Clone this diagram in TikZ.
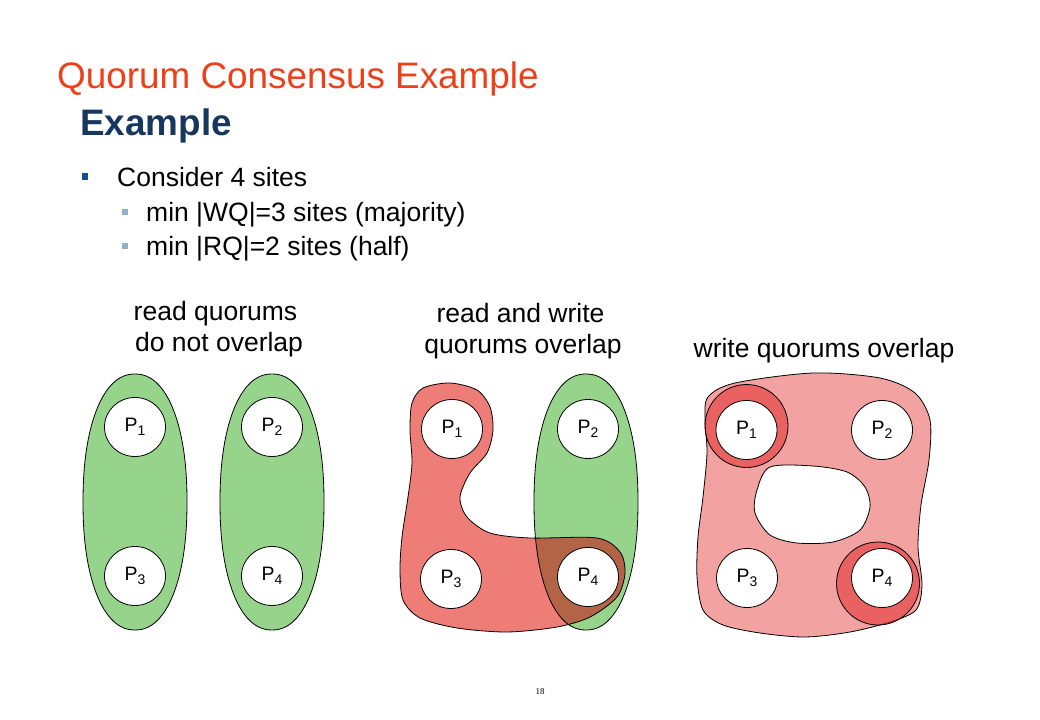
\documentclass[tikz,border=0pt]{standalone}
\usepackage{fontspec}
\setmainfont{Liberation Sans}
\newfontfamily\pagefont{Liberation Serif}
\usetikzlibrary{shapes.geometric}

\definecolor{titlered}{RGB}{238,64,24}
\definecolor{navy}{RGB}{23,55,94}
\definecolor{bulletblue}{RGB}{22,80,140}
\definecolor{subblue}{RGB}{150,175,200}
\definecolor{readgreen}{RGB}{150,212,140}
\definecolor{writered}{RGB}{238,125,120}
\definecolor{overlapbrown}{RGB}{180,100,70}
\definecolor{lightred}{RGB}{242,162,160}
\definecolor{ringred}{RGB}{228,55,55}

\newcommand{\Psite}[1]{P\raisebox{-4.5bp}{\fontsize{14}{14}\selectfont #1}}
% rounded oval round a pair of sites
\newcommand{\quorumoval}[2]{plot[domain=1.5:358.5, samples=120, variable=\t]
    ({#1+52*cos(\t)*abs(cos(\t))^(-0.09)}, {#2+128*sin(\t)*abs(sin(\t))^(-0.09)}) -- cycle}

\begin{document}
\begin{tikzpicture}[
    x=1bp, y=-1bp,
    site/.style={ellipse, draw=black, line width=0.8bp, fill=white, minimum width=61bp, minimum height=59bp, inner sep=0pt, font=\fontsize{19.5}{20}\selectfont},
    readq/.style={draw=black, line width=0.8bp, fill=readgreen},
    writeq/.style={draw=black, line width=0.8bp, fill=writered},
    ring/.style={draw=black, line width=0.8bp, fill=ringred, fill opacity=0.6},
    label/.style={anchor=base, inner sep=0pt, font=\fontsize{26.6}{30}\selectfont},
    item/.style={anchor=base west, inner sep=0pt, font=\fontsize{26.6}{30}\selectfont},
    bullet/.style={rectangle, fill=bulletblue, minimum size=6.5bp, inner sep=0pt},
    subbullet/.style={bullet, fill=subblue, minimum size=6bp},
]

% ---- Layout ----
\def\ymid{502}

\path[use as bounding box] (0,0) rectangle (1040,720);

% ---- Headings ----
\node[anchor=base west, inner sep=0pt, text=titlered, font=\fontsize{37}{40}\selectfont] (title) at (57,88.5) {Quorum Consensus Example};
\node[anchor=base west, inner sep=0pt, text=navy, font=\fontsize{37}{40}\selectfont\bfseries] (head) at (80,135.5) {Example};

% ---- Bullets ----
\node[bullet] (b0) at (85,176.5) {};
\node[item] (t0) at (117,187) {Consider 4 sites};
\node[subbullet] (b1) at (124.5,212) {};
\node[item] (t1) at (146,221.7) {min |WQ|=3 sites (majority)};
\node[subbullet] (b2) at (124.5,246) {};
\node[item] (t2) at (146,255.5) {min |RQ|=2 sites (half)};

% ---- Captions ----
\node[label] (la1) at (215.5,320) {read quorums};
\node[label] (la2) at (219,351) {do not overlap};
\node[label] (lb1) at (520.5,322) {read and write};
\node[label] (lb2) at (523,353) {quorums overlap};
\node[label] (lc1) at (824,357) {write quorums overlap};

% ---- Read quorums ----
\filldraw[readq] \quorumoval{135}{\ymid};
\filldraw[readq] \quorumoval{272}{\ymid};
\foreach \n/\x/\y in {1/135/427, 2/272/427, 3/135/576, 4/272/576}
    \node[site] (a\n) at (\x,\y) {\Psite{\n}};

% ---- Read and write quorums ----
\path[save path=\midblob] plot[smooth cycle] coordinates {
    (412,403) (423,388) (450,383) (477,390) (490,407) (493,430)
    (487,453) (470,473) (460,497) (467,517) (490,533) (530,538)
    (597,538) (620,552) (625,573) (617,597) (590,617) (557,627)
    (507,632) (457,628) (420,618) (403,600) (400,570) (402,537)
    (408,497) (412,463) (410,430)};
\fill[readgreen] \quorumoval{586}{\ymid};
\fill[writered, use path=\midblob];
\begin{scope}
    \clip \quorumoval{586}{\ymid};
    \fill[overlapbrown, use path=\midblob];
\end{scope}
\draw[line width=0.8bp] \quorumoval{586}{\ymid};
\draw[line width=0.8bp, use path=\midblob];
\foreach \n/\x/\y in {1/452/429, 2/588/429, 3/451/579, 4/588/577}
    \node[site] (b\n) at (\x,\y) {\Psite{\n}};

% ---- Write quorums ----
\filldraw[writeq, fill=lightred, even odd rule]
    plot[smooth cycle] coordinates {
    (708,397) (735,383) (813,373) (880,378) (915,393) (930,420)
    (929,460) (921,505) (918,547) (922,585) (916,610) (890,622)
    (850,632) (805,637) (760,633) (723,625) (703,610) (697,577)
    (698,537) (703,497) (707,453) (705,420)}
    plot[smooth cycle] coordinates {
    (770,467) (813,466) (847,472) (865,487) (870,507) (860,530)
    (833,542) (797,543) (770,535) (755,513) (757,490)};
\filldraw[ring] (746.5,426) circle [radius=41.5bp];
\filldraw[ring] (878,583.5) circle [radius=41.5bp];
\foreach \n/\x/\y in {1/746.5/430, 2/882/430, 3/747/578, 4/882/578}
    \node[site] (c\n) at (\x,\y) {\Psite{\n}};

% ---- Page number ----
\node[anchor=base, inner sep=0pt, font=\pagefont\fontsize{9}{9}\selectfont] (pageno) at (540,694) {18};

\end{tikzpicture}
\end{document}
